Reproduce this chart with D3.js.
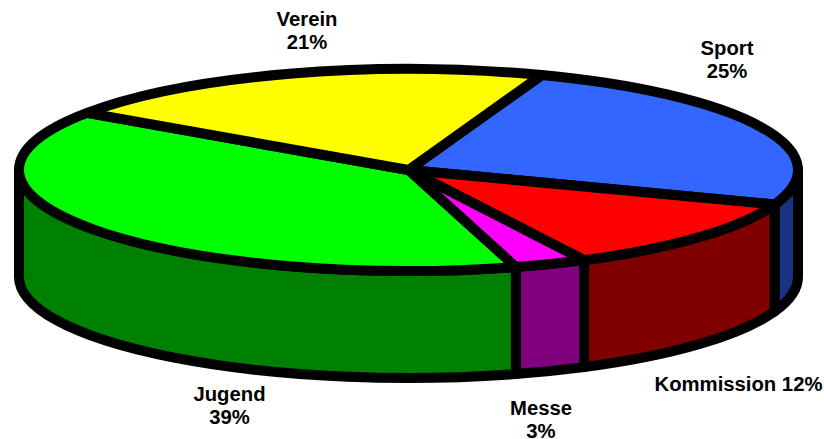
<!DOCTYPE html>
<html><head><meta charset="utf-8">
<style>html,body{margin:0;padding:0;background:#fff}svg{display:block}</style>
<script src="https://cdn.jsdelivr.net/npm/d3@7/dist/d3.min.js"></script>
</head><body><svg id="c" width="824" height="439"></svg>
<script>
const categories = ["Sport","Kommission","Messe","Jugend","Verein"];
const values = [25,12,3,39,21];
const percentLabels = ["25%","12%","3%","39%","21%"];
const topColors = ["#3366ff","#ff0000","#ff00ff","#00ff00","#ffff00"];
const sideColors = ["#1a3380","#800000","#800080","#008000","#808000"];
const labelLines = [["Sport","25%"],["Kommission 12%"],["Messe","3%"],["Jugend","39%"],["Verein","21%"]];
const labelPos = [[727,55],[738.5,391],[541,415],[229.5,401],[307,26]];

const cx=408.5, cy=170, rx=389.5, ry=101, depth=107, sw=10;
const deg=Math.PI/180;
const svg=d3.select("#c");
const pie=d3.pie().sort(null).value(d=>d).startAngle(20*deg).endAngle(380*deg);
const arcs=pie(values);
const px=t=>cx+rx*Math.sin(t), py=t=>cy-ry*Math.cos(t);
const common={stroke:"#000","stroke-width":sw,"stroke-linejoin":"round","stroke-linecap":"round"};
function style(sel){for(const k in common)sel.attr(k,common[k]);return sel;}

// side walls: only the front half (t from 90deg to 270deg) is visible
arcs.forEach((s,i)=>{
  const a=Math.max(s.startAngle,90*deg), b=Math.min(s.endAngle,270*deg);
  if(b<=a) return;
  const d=`M${px(a)},${py(a)} A${rx},${ry} 0 0 1 ${px(b)},${py(b)} L${px(b)},${py(b)+depth} A${rx},${ry} 0 0 0 ${px(a)},${py(a)+depth} Z`;
  style(svg.append("path").attr("d",d).attr("fill",sideColors[i]));
});
// top slices
arcs.forEach((s,i)=>{
  const a=s.startAngle,b=s.endAngle,large=(b-a)>Math.PI?1:0;
  const d=`M${cx},${cy} L${px(a)},${py(a)} A${rx},${ry} 0 ${large} 1 ${px(b)},${py(b)} Z`;
  style(svg.append("path").attr("d",d).attr("fill",topColors[i]));
});
// labels
labelLines.forEach((lines,i)=>{
  const t=svg.append("text").attr("text-anchor","middle")
    .attr("font-family","'Liberation Sans',Arial,sans-serif").attr("font-weight","bold")
    .attr("font-size",20.3).attr("fill","#000");
  lines.forEach((l,j)=>t.append("tspan").attr("x",labelPos[i][0]).attr("y",labelPos[i][1]+j*23).text(l));
});
</script></body></html>
